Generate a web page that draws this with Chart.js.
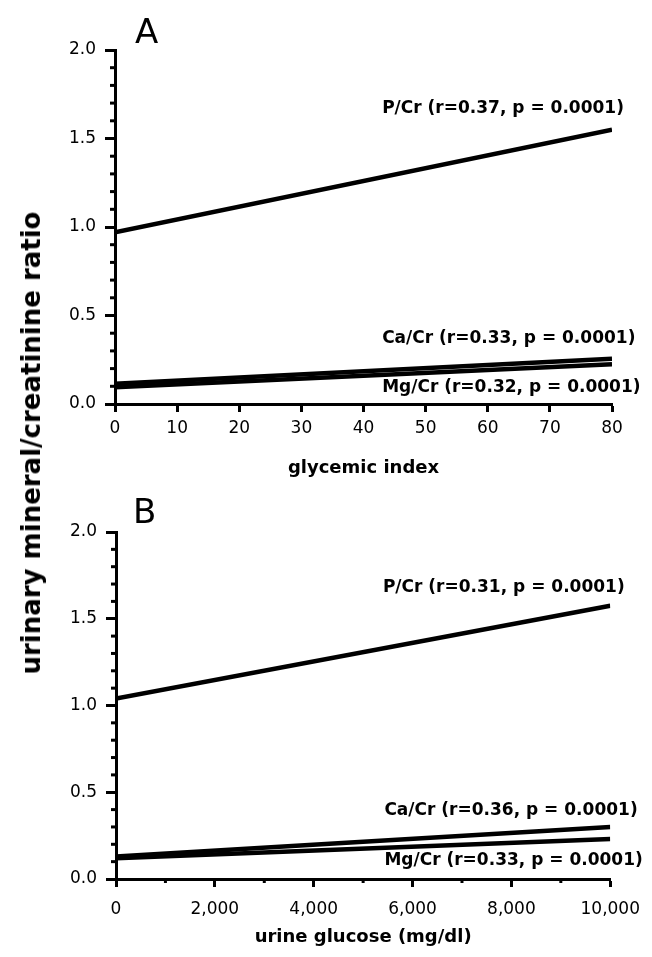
<!DOCTYPE html>
<html>
<head>
<meta charset="utf-8">
<script src="https://cdn.jsdelivr.net/npm/chart.js@4"></script>
<style>
    body { margin: 0; background: #fff; }
    #wrap { position: relative; width: 652px; height: 957px; overflow: hidden; }
    #chartA { position: absolute; left: 0; top: 0; }
    #chartB { position: absolute; left: 0; top: 480px; }
    #yTitle {
        position: absolute; left: 31px; top: 443px;
        transform: translate(-50%, -50%) rotate(-90deg);
        font: bold 26px "DejaVu Sans", sans-serif; white-space: nowrap; color: #000;
    }
</style>
</head>
<body>
<div id="wrap">
    <canvas id="chartA" width="652" height="480"></canvas>
    <canvas id="chartB" width="652" height="477"></canvas>
    <div id="yTitle">urinary mineral/creatinine ratio</div>
</div>
<script>
// panel A: glycemic index
const xA = [0, 80];
const pA = [0.97, 1.55];
const caA = [0.115, 0.255];
const mgA = [0.095, 0.225];
const notesA = ['P/Cr (r=0.37, p = 0.0001)', 'Ca/Cr (r=0.33, p = 0.0001)', 'Mg/Cr (r=0.32, p = 0.0001)'];

// panel B: urine glucose
const xB = [0, 10000];
const pB = [1.04, 1.575];
const caB = [0.13, 0.30];
const mgB = [0.12, 0.23];
const notesB = ['P/Cr (r=0.31, p = 0.0001)', 'Ca/Cr (r=0.36, p = 0.0001)', 'Mg/Cr (r=0.33, p = 0.0001)'];

const yTicks = [0, 0.5, 1.0, 1.5, 2.0];

const FONT = '"DejaVu Sans", sans-serif';

function toPoints(xs, ys) {
    return xs.map((x, i) => ({ x: x, y: ys[i] }));
}

function lineSet(xs, ys) {
    return {
        data: toPoints(xs, ys),
        borderColor: '#000',
        borderWidth: 4.5,
        pointRadius: 0,
        showLine: true,
        fill: false
    };
}

// text notes + panel letter + minor ticks
const extras = {
    id: 'extras',
    afterDraw(chart, args, opts) {
        let ctx = chart.ctx;
        let xs = chart.scales.x, ys = chart.scales.y;
        ctx.save();
        ctx.fillStyle = '#000';
        ctx.strokeStyle = '#000';

        ctx.font = 'bold 17px ' + FONT;
        ctx.textBaseline = 'alphabetic';
        ctx.textAlign = 'left';
        opts.notes.forEach(function(t, i) {
            ctx.fillText(t, xs.getPixelForValue(opts.noteX[i]), ys.getPixelForValue(opts.noteY[i]));
        });

        ctx.font = '34px ' + FONT;
        ctx.fillText(opts.letter, opts.letterX, opts.letterY);

        ctx.lineWidth = 3;
        let left = chart.chartArea.left, bottom = chart.chartArea.bottom;
        for (let v = 0.1; v < 2; v += 0.1) {
            if (Math.abs(v * 2 - Math.round(v * 2)) < 1e-6) continue;
            let y = ys.getPixelForValue(v);
            ctx.beginPath();
            ctx.moveTo(left - 5, y);
            ctx.lineTo(left, y);
            ctx.stroke();
        }
        if (opts.xMinor) {
            for (let v = opts.xMinor; v < xs.max; v += opts.xMinor * 2) {
                let x = xs.getPixelForValue(v);
                ctx.beginPath();
                ctx.moveTo(x, bottom);
                ctx.lineTo(x, bottom + 4);
                ctx.stroke();
            }
        }
        ctx.restore();
    }
};

function makeChart(id, xs, sets, xMax, xStep, xTitle, cfg) {
    return new Chart(document.getElementById(id), {
        type: 'scatter',
        data: { datasets: sets.map(s => lineSet(xs, s)) },
        options: {
            responsive: false,
            animation: false,
            layout: { padding: { top: cfg.top, right: cfg.right, left: 0, bottom: 0 } },
            plugins: {
                legend: { display: false },
                tooltip: { enabled: false },
                extras: cfg.extras
            },
            scales: {
                x: {
                    type: 'linear', min: 0, max: xMax,
                    afterFit: function(s) { s.height = cfg.xHeight; },
                    border: { color: '#000', width: 3 },
                    grid: { drawOnChartArea: false, tickLength: 8, tickWidth: 3, tickColor: '#000' },
                    ticks: {
                        stepSize: xStep, color: '#000', padding: cfg.xPad,
                        font: { family: FONT, size: 17 },
                        callback: v => v.toLocaleString('en-US')
                    },
                    title: {
                        display: true, text: xTitle, color: '#000',
                        font: { family: FONT, size: 18, weight: 'bold' },
                        padding: { top: 0, bottom: cfg.titlePad }
                    }
                },
                y: {
                    type: 'linear', min: 0, max: 2,
                    afterFit: function(s) { s.width = cfg.left; },
                    afterBuildTicks: function(s) { s.ticks = yTicks.map(v => ({ value: v })); },
                    border: { color: '#000', width: 3 },
                    grid: { drawOnChartArea: false, tickLength: 10, tickWidth: 3, tickColor: '#000' },
                    ticks: {
                        color: '#000', padding: 9,
                        font: { family: FONT, size: 17 },
                        callback: v => Number(v).toFixed(1)
                    }
                }
            }
        },
        plugins: [extras]
    });
}

makeChart('chartA', xA, [pA, caA, mgA], 80, 10, 'glycemic index', {
    top: 50, right: 40, left: 115, xHeight: 76, xPad: 6, titlePad: 1,
    extras: {
        notes: notesA, noteX: [43, 43, 43], noteY: [1.644, 0.345, 0.068],
        letter: 'A', letterX: 135, letterY: 43
    }
});

makeChart('chartB', xB, [pB, caB, mgB], 10000, 2000, 'urine glucose (mg/dl)', {
    top: 52, right: 39, left: 116, xHeight: 78, xPad: 12, titlePad: 9,
    extras: {
        notes: notesB, noteX: [5400, 5430, 5430], noteY: [1.654, 0.369, 0.08],
        letter: 'B', letterX: 133, letterY: 43, xMinor: 1000
    }
});
</script>
</body>
</html>
